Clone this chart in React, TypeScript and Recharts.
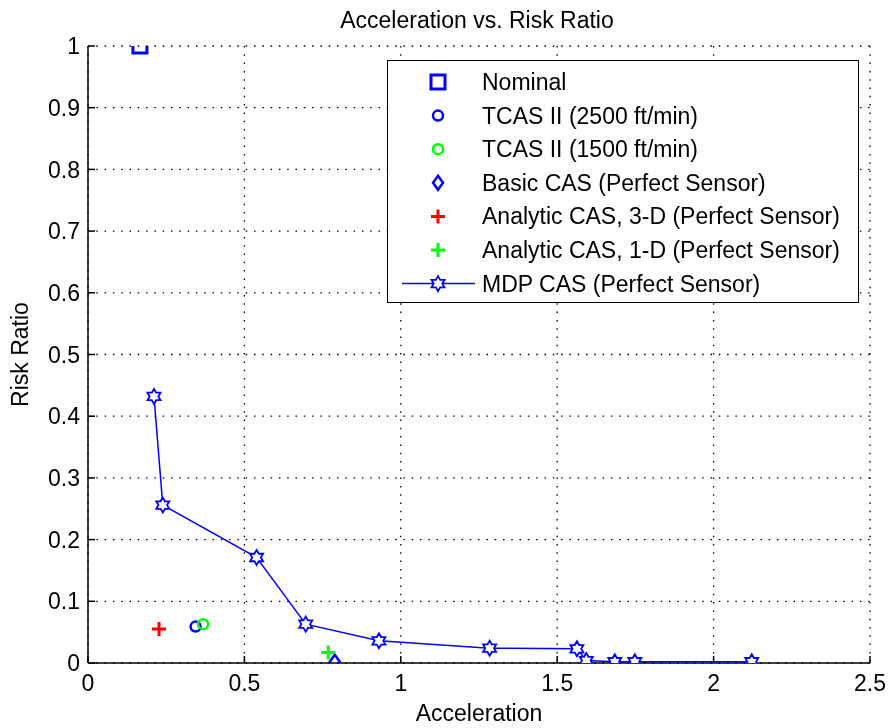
import {
  ScatterChart, Scatter, XAxis, YAxis, CartesianGrid, Legend,
} from "recharts";

// valeurs
const nominalAccel = [0.166];
const nominalRisk = [1.0];
const tcas2500Accel = [0.344];
const tcas2500Risk = [0.059];
const tcas1500Accel = [0.368];
const tcas1500Risk = [0.063];
const basicAccel = [0.789];
const basicRisk = [0.002];
const analytic3dAccel = [0.227];
const analytic3dRisk = [0.055];
const analytic1dAccel = [0.768];
const analytic1dRisk = [0.017];
const mdpAccel = [0.211, 0.239, 0.539, 0.696, 0.930, 1.284, 1.563, 1.593, 1.684, 1.748, 2.122];
const mdpRisk = [0.432, 0.256, 0.171, 0.063, 0.036, 0.024, 0.023, 0.004, 0.002, 0.002, 0.002];

const xTicks = [0, 0.5, 1, 1.5, 2, 2.5];
const yTicks = [0, 0.1, 0.2, 0.3, 0.4, 0.5, 0.6, 0.7, 0.8, 0.9, 1];

const BLUE = "#0000ff";
const GREEN = "#00ff00";
const RED = "#ff0000";
const FONT = "'Liberation Sans', Arial, sans-serif";
const FS = 23;

const toPts = (xs: number[], ys: number[]) => xs.map((x, i) => ({ x, y: ys[i] }));

type ShapeProps = { cx?: number; cy?: number };

const Square = ({ cx = 0, cy = 0 }: ShapeProps) => (
  <rect x={cx - 7} y={cy - 7} width={14} height={14} fill="none" stroke={BLUE} strokeWidth={3} />
);
const Ring = (color: string) => ({ cx = 0, cy = 0 }: ShapeProps) => (
  <circle cx={cx} cy={cy} r={5} fill="none" stroke={color} strokeWidth={2.5} />
);
const Diamond = ({ cx = 0, cy = 0 }: ShapeProps) => (
  <polygon
    points={`${cx},${cy - 7} ${cx + 5},${cy} ${cx},${cy + 7} ${cx - 5},${cy}`}
    fill="none" stroke={BLUE} strokeWidth={2.5}
  />
);
const Plus = (color: string) => ({ cx = 0, cy = 0 }: ShapeProps) => (
  <path d={`M${cx - 7},${cy}H${cx + 7}M${cx},${cy - 7}V${cy + 7}`} stroke={color} strokeWidth={3} />
);
const hexPoints = (cx: number, cy: number, ro: number) => {
  const ri = ro / Math.sqrt(3);
  const pts: string[] = [];
  for (let i = 0; i < 12; i++) {
    const a = -Math.PI / 2 + (i * Math.PI) / 6;
    const r = i % 2 === 0 ? ro : ri;
    pts.push(`${cx + r * Math.cos(a)},${cy + r * Math.sin(a)}`);
  }
  return pts.join(" ");
};
const Hexagram = ({ cx = 0, cy = 0 }: ShapeProps) => (
  <polygon points={hexPoints(cx, cy, 7.5)} fill="#fff" stroke={BLUE} strokeWidth={1.8} />
);

const legendRows = [
  { name: "Nominal", marker: (x: number, y: number) => <Square cx={x} cy={y} /> },
  { name: "TCAS II (2500 ft/min)", marker: (x: number, y: number) => Ring(BLUE)({ cx: x, cy: y }) },
  { name: "TCAS II (1500 ft/min)", marker: (x: number, y: number) => Ring(GREEN)({ cx: x, cy: y }) },
  { name: "Basic CAS (Perfect Sensor)", marker: (x: number, y: number) => <Diamond cx={x} cy={y} /> },
  { name: "Analytic CAS, 3-D (Perfect Sensor)", marker: (x: number, y: number) => Plus(RED)({ cx: x, cy: y }) },
  { name: "Analytic CAS, 1-D (Perfect Sensor)", marker: (x: number, y: number) => Plus(GREEN)({ cx: x, cy: y }) },
  {
    name: "MDP CAS (Perfect Sensor)",
    marker: (x: number, y: number) => (
      <g>
        <line x1={x - 36} x2={x + 37} y1={y} y2={y} stroke={BLUE} strokeWidth={1.5} />
        <Hexagram cx={x} cy={y} />
      </g>
    ),
  },
];

const LegendBox = () => (
  <div style={{ width: 472, height: 243, border: "1.5px solid #000", background: "#fff", boxSizing: "border-box", position: "relative" }}>
    <svg width={472} height={243} style={{ position: "absolute", left: -1.5, top: -1.5 }}>
      {legendRows.map((r, i) => {
        const y = 22 + i * 33.6;
        return (
          <g key={r.name}>
            {r.marker(51, y)}
            <text x={95} y={y + 8} fontFamily={FONT} fontSize={FS} fill="#000">
              {r.name}
            </text>
          </g>
        );
      })}
    </svg>
  </div>
);

export default function App() {
  return (
    // fixe en haut à gauche : pas de barres de défilement, coordonnées = celles de la page
    <div style={{ position: "fixed", top: 0, left: 0, width: 889, height: 728, fontFamily: FONT, background: "#fff" }}>
      <div style={{ position: "absolute", top: 9, left: 0, width: 954, textAlign: "center", fontSize: FS, lineHeight: "23px", color: "#000" }}>
        Acceleration vs. Risk Ratio
      </div>
      <ScatterChart width={889} height={728} margin={{ top: 46, right: 19, bottom: 0, left: 0 }}>
        <CartesianGrid stroke="#000" strokeDasharray="1.5 6.8" strokeWidth={1.3} />
        <XAxis
          type="number" dataKey="x" domain={[0, 2.5]} ticks={xTicks} height={65}
          tick={{ fill: "#000", fontSize: FS, fontFamily: FONT }} tickSize={-7} tickMargin={19}
          tickLine={{ stroke: "#000", strokeWidth: 1.5 }}
          axisLine={{ stroke: "#000", strokeWidth: 1.5 }} allowDataOverflow
          label={{ value: "Acceleration", position: "insideBottom", offset: 7, fill: "#000", fontSize: FS, fontFamily: FONT }}
        />
        <YAxis
          type="number" dataKey="y" domain={[0, 1]} ticks={yTicks} width={88}
          tick={{ fill: "#000", fontSize: FS, fontFamily: FONT }} tickSize={-7} tickMargin={15}
          tickLine={{ stroke: "#000", strokeWidth: 1.5 }}
          axisLine={{ stroke: "#000", strokeWidth: 1.5 }} allowDataOverflow
          label={{ value: "Risk Ratio", angle: -90, position: "insideLeft", offset: 20, fill: "#000", fontSize: FS, fontFamily: FONT, style: { textAnchor: "middle" } }}
        />
        <Legend
          layout="vertical" align="center" verticalAlign="middle"
          wrapperStyle={{ position: "absolute", left: 387, top: 60, width: 472, height: 243 }}
          content={() => <LegendBox />}
        />
        <Scatter name="MDP CAS (Perfect Sensor)" data={toPts(mdpAccel, mdpRisk)} line={{ stroke: BLUE, strokeWidth: 1.5 }} lineType="joint" shape={<Hexagram />} isAnimationActive={false} />
        <Scatter name="Nominal" data={toPts(nominalAccel, nominalRisk)} shape={<Square />} isAnimationActive={false} />
        <Scatter name="TCAS II (2500 ft/min)" data={toPts(tcas2500Accel, tcas2500Risk)} shape={Ring(BLUE)} isAnimationActive={false} />
        <Scatter name="TCAS II (1500 ft/min)" data={toPts(tcas1500Accel, tcas1500Risk)} shape={Ring(GREEN)} isAnimationActive={false} />
        <Scatter name="Basic CAS (Perfect Sensor)" data={toPts(basicAccel, basicRisk)} shape={<Diamond />} isAnimationActive={false} />
        <Scatter name="Analytic CAS, 3-D (Perfect Sensor)" data={toPts(analytic3dAccel, analytic3dRisk)} shape={Plus(RED)} isAnimationActive={false} />
        <Scatter name="Analytic CAS, 1-D (Perfect Sensor)" data={toPts(analytic1dAccel, analytic1dRisk)} shape={Plus(GREEN)} isAnimationActive={false} />
      </ScatterChart>
    </div>
  );
}
